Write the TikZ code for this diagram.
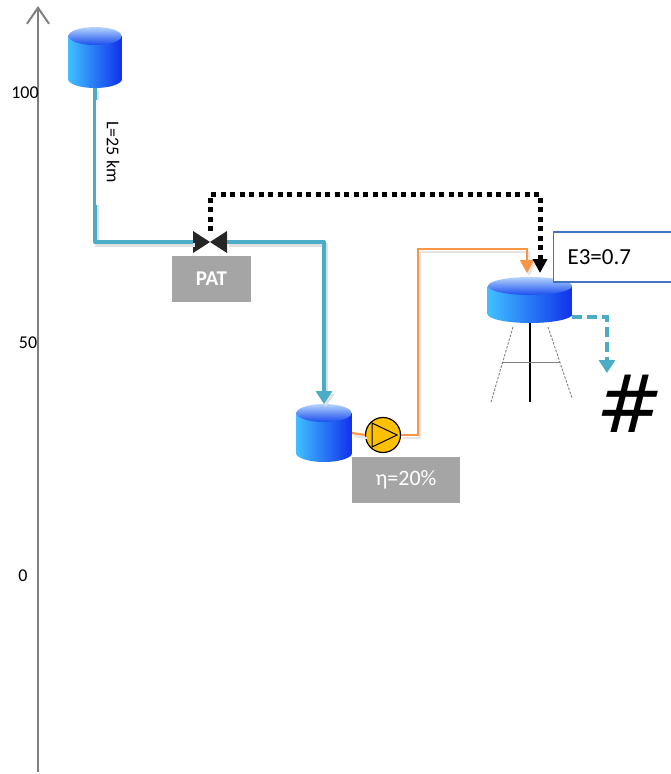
\documentclass[tikz,border=0pt]{standalone}
\usepackage{fontspec}
\setmainfont{Carlito}
\newfontfamily\hashfont{DejaVu Sans}
\usetikzlibrary{arrows.meta}
\definecolor{pipeblue}{RGB}{75,172,198}
\definecolor{feedorange}{RGB}{247,150,70}
\definecolor{boxgray}{RGB}{165,165,165}
\definecolor{framecolor}{RGB}{68,114,196}
\definecolor{pumpyellow}{RGB}{255,192,0}
\definecolor{tanklight}{RGB}{64,192,255}
\definecolor{tankdark}{RGB}{16,48,235}
\definecolor{tanktop}{RGB}{70,150,250}
\tikzstyle{axis}=[draw=gray, line width=2pt, -{Straight Barb[length=16pt, width=22pt]}]
\tikzstyle{ticklabel}=[inner sep=0, font=\fontsize{18}{20}\selectfont]
\tikzstyle{pipe}=[draw=pipeblue, line width=4pt, line join=round,
                  preaction={draw=black!12, line width=4pt, transform canvas={shift={(2,3)}}}]
\tikzstyle{feed}=[draw=feedorange, line width=2.2pt,
                  preaction={draw=black!10, line width=2.2pt, transform canvas={shift={(2,3)}}}]
\tikzstyle{ctrl}=[draw=black, line width=5pt, dash pattern=on 5pt off 4.5pt]
\tikzstyle{spill}=[draw=pipeblue, line width=4pt, dash pattern=on 10pt off 5pt]
\tikzstyle{tag}=[fill=boxgray, text=white, inner sep=0, minimum height=46]
\tikzstyle{infobox}=[draw=framecolor, line width=1.2pt, fill=white, inner ysep=0, inner xsep=14,
                     minimum height=50, text width=94, align=left, font=\fontsize{23}{26}\selectfont]
\tikzstyle{leg}=[draw=black, line width=1.5pt]
\tikzstyle{sideleg}=[draw=gray, line width=0.9pt, dash pattern=on 2.5pt off 1.5pt]
\tikzstyle{valve}=[minimum width=34, minimum height=22, inner sep=0, outer sep=0,
                   path picture={
                     \fill[black!85] (path picture bounding box.north west) -- (path picture bounding box.center)
                                     -- (path picture bounding box.south west) -- cycle;
                     \fill[black!85] (path picture bounding box.north east) -- (path picture bounding box.center)
                                     -- (path picture bounding box.south east) -- cycle;}]
\tikzstyle{pump}=[circle, draw=black, line width=1.2pt, fill=pumpyellow, minimum size=35, inner sep=0,
                  path picture={
                    \draw[line width=1pt] ([shift={(-11,-12)}]path picture bounding box.center)
                      -- ([shift={(14,0)}]path picture bounding box.center)
                      -- ([shift={(-11,12)}]path picture bounding box.center) -- cycle;}]
% cylinder: width, height, radius of the end ellipses
\tikzset{tank/.style n args={3}{minimum width=#1, minimum height=#2, inner sep=0, outer sep=0,
    path picture={
      \begin{scope}[shift={(path picture bounding box.center)}]
        \shade[left color=tanklight, right color=tankdark]
          (-#1/2, -#2/2+#3) -- (-#1/2, #2/2-#3)
          arc[start angle=180, end angle=0, x radius=#1/2, y radius=#3]
          -- (#1/2, -#2/2+#3) -- cycle;
        \shade[top color=tanktop!40!white, bottom color=tankdark!80!tanklight]
          (0, -#2/2+#3) ellipse[x radius=#1/2-0.5, y radius=#3];
      \end{scope}}}}

\begin{document}
\begin{tikzpicture}[x=1pt, y=-1pt]
  \useasboundingbox (0,0) rectangle (671,774);

  % height axis
  \coordinate (axisfoot) at (38,772);
  \coordinate (axishead) at (38,6);
  \draw[axis] (axisfoot) -- (axishead);
  \node[ticklabel] (h100) at (25,93)  {100};
  \node[ticklabel] (h50)  at (28,343) {50};
  \node[ticklabel] (h0)   at (23,576) {0};

  % tanks, valve and pump
  \node[tank={54}{61}{9}] (tank1) at (95,57.5) {};
  \node[tank={56}{58}{9}] (tank2) at (324,433) {};
  \node[tank={85}{46}{9}] (tower) at (530,300) {};
  \node[valve] (pat) at (210,242) {};
  \node[pump] (pump) at (383,435) {};

  % gravity main
  \draw[pipe] (tank1.south) |- (pat.west);
  \draw[pipe, -{Triangle[length=13pt, width=16pt]}] (pat.east) -| (tank2.north);
  \node[rotate=-90, fill=white, inner sep=0, minimum width=105, minimum height=35,
        font=\fontsize{18}{20}\selectfont] (len) at (113,152) {L=25 km};

  % pumped line to the elevated tank
  \coordinate (feedin) at (527,273);
  \coordinate (ctrlin) at (540,273);
  \draw[feed] (tank2.east) -- (pump.west);
  \draw[feed, -{Triangle[length=13pt, width=14pt]}] (pump.east) -- ++(17,0) |- (527,249) -- (feedin);
  \draw[ctrl, -{Triangle[length=14pt, width=14pt]}] (pat.north) -- ++(0,-37) -| (ctrlin);

  % tower legs
  \draw[leg] (tower.south) -- ++(0,79);
  \draw[sideleg] ([shift={(-17,4)}]tower.south) -- ++(-22,75);
  \draw[sideleg] ([shift={(18,4)}]tower.south) -- ++(24,71);
  \draw[draw=gray, line width=0.8pt] ([shift={(-27,39)}]tower.south) -- ++(57,0);

  % overflow
  \coordinate (outlet) at (572,317);
  \coordinate (drain) at (607,373);
  \draw[spill, -{Triangle[length=13pt, width=16pt]}] (outlet) -| (drain);
  \node[inner sep=0, font=\hashfont\itshape\fontsize{80}{80}\selectfont] (hash) at (630,404) {\#};

  % labels
  \node[tag, minimum width=79, font=\fontsize{21}{24}\selectfont\bfseries] (pattag) at (211.5,279) {PAT};
  \node[tag, minimum width=108, font=\fontsize{22}{25}\selectfont] (etatag) at (406,480) {η=20\%};
  \node[infobox, anchor=west] (e3) at (553,257) {E3=0.7};
\end{tikzpicture}
\end{document}
